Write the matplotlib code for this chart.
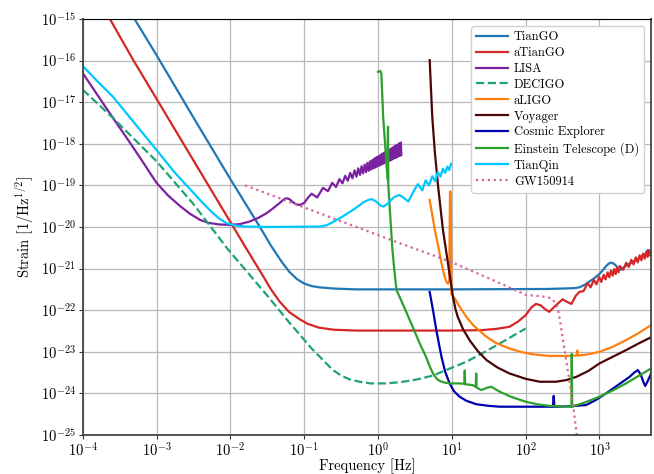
import numpy as np
import matplotlib
matplotlib.use("Agg")
import matplotlib.pyplot as plt

plt.rcParams['font.family'] = 'serif'
plt.rcParams['font.serif'] = ['cmr10']
plt.rcParams['mathtext.fontset'] = 'cm'
plt.rcParams['axes.unicode_minus'] = False
plt.rcParams['axes.formatter.use_mathtext'] = True

# values, as (log10 f [Hz], log10 strain)
tiango_f = [-3.35, -3.0, -2.5, -2.0, -1.6, -1.45, -1.3, -1.2, -1.1, -1.0, -0.9, -0.8, -0.6, -0.3,
            0.0, 1.0, 2.3, 2.5, 2.66, 2.73, 2.8, 2.865, 2.93, 3.0, 3.05, 3.09, 3.12, 3.145, 3.17,
            3.2, 3.24, 3.29, 3.36, 3.43, 3.5, 3.56, 3.62, 3.655, 3.675, 3.7]
tiango_h = [-14.85, -15.87, -17.37, -18.85, -20.0, -20.45, -20.85, -21.08, -21.25, -21.36, -21.42,
            -21.45, -21.48, -21.5, -21.5, -21.5, -21.49, -21.48, -21.47, -21.45, -21.39, -21.31,
            -21.23, -21.13, -21.03, -20.94, -20.89, -20.86, -20.86, -20.89, -20.96, -21.03, -20.93,
            -20.86, -20.79, -20.72, -20.66, -20.55, -20.62, -20.57]

atiango_f = [-3.68, -3.315, -3.0, -2.5, -2.0, -1.78, -1.55, -1.45, -1.33, -1.2, -1.06, -0.95, -0.8,
             -0.6, -0.3, 1.0, 1.4, 1.6, 1.78, 1.9, 2.0, 2.08, 2.14, 2.2, 2.26, 2.32, 2.4, 2.5, 2.56,
             2.62, 2.68, 2.73,
             2.785, 2.839, 2.881, 2.924, 2.959, 2.996, 3.025, 3.057, 3.083, 3.111, 3.134, 3.158,
             3.179, 3.201, 3.22, 3.241, 3.258, 3.276, 3.322, 3.362, 3.398, 3.431, 3.462, 3.491,
             3.519, 3.544, 3.568, 3.591, 3.613, 3.633, 3.653, 3.672, 3.69, 3.699]
atiango_h = [-14.85, -15.99, -16.92, -18.4, -19.88, -20.53, -21.2, -21.5, -21.8, -22.05, -22.22,
             -22.33, -22.42, -22.47, -22.49, -22.49, -22.48, -22.45, -22.4, -22.27, -22.12, -21.93,
             -21.85, -21.88, -21.97, -22.04, -21.9, -21.74, -21.8, -21.85, -21.65, -21.56,
             -21.54, -21.35, -21.45, -21.27, -21.38,
             -21.2, -21.32, -21.15, -21.26, -21.09, -21.21, -21.05, -21.17, -21.01, -21.13, -20.97,
             -21.09, -20.94, -21.03, -20.86, -20.96, -20.79, -20.9, -20.73, -20.85, -20.68, -20.8,
             -20.64, -20.76, -20.6, -20.72, -20.56, -20.69, -20.62]

lisa_f = [-4.0, -3.8, -3.59, -3.4, -3.2, -3.0, -2.84, -2.68, -2.55, -2.41, -2.3, -2.15, -2.0, -1.87,
          -1.74, -1.62, -1.51, -1.42, -1.33, -1.27, -1.24, -1.2, -1.15, -1.1, -1.05, -1.0, -0.95,
          -0.9, -0.824, -0.745, -0.678, -0.62, -0.569, -0.523, -0.481, -0.444, -0.409, -0.377,
          -0.347, -0.319, -0.292, -0.268, -0.244, -0.222, -0.201, -0.18, -0.161, -0.143, -0.125,
          -0.108, -0.092, -0.076, -0.06, -0.046, -0.032, -0.018, -0.004, 0.009, 0.021, 0.033,
          0.045, 0.057, 0.068, 0.079, 0.09, 0.1, 0.111, 0.121, 0.13, 0.14, 0.149, 0.158, 0.167,
          0.176, 0.185, 0.193, 0.201, 0.21, 0.217, 0.225, 0.233, 0.241, 0.248, 0.255, 0.262,
          0.27, 0.276, 0.283, 0.29, 0.297, 0.303, 0.31, 0.316]
lisa_h = [-16.3, -16.83, -17.38, -17.87, -18.4, -18.94, -19.25, -19.5, -19.68, -19.83, -19.9,
          -19.94, -19.95, -19.93, -19.87, -19.78, -19.67, -19.55, -19.42, -19.33, -19.31, -19.33,
          -19.41, -19.46, -19.47, -19.42, -19.3, -19.2, -19.29, -19.06, -19.14, -18.94, -19.04,
          -18.85, -18.95, -18.77, -18.89, -18.7,
          -18.83, -18.64, -18.79, -18.59, -18.75, -18.54, -18.71, -18.5, -18.68, -18.46, -18.65,
          -18.42, -18.62, -18.39, -18.59, -18.35, -18.57, -18.32, -18.54, -18.3, -18.52, -18.27,
          -18.5, -18.24, -18.48, -18.22, -18.46, -18.2, -18.44, -18.18, -18.43, -18.16, -18.41,
          -18.14, -18.4, -18.12, -18.38, -18.1, -18.37, -18.08, -18.35, -18.06, -18.34, -18.05,
          -18.33, -18.03, -18.31, -18.02, -18.3, -18.0, -18.29, -17.99, -18.28, -17.97, -18.27]

decigo_f = [-4.0, -3.59, -3.0, -2.5, -2.05, -1.5, -1.2, -1.015, -0.9, -0.8, -0.7, -0.61, -0.5,
            -0.39, -0.25, -0.1, 0.11, 0.3, 0.45, 0.565, 0.745, 0.95, 1.196, 1.45, 1.65, 2.0]
decigo_h = [-16.7, -17.38, -18.42, -19.45, -20.5, -21.65, -22.3, -22.68, -22.92, -23.1, -23.28,
            -23.44, -23.57, -23.66, -23.72, -23.76, -23.76, -23.73, -23.69, -23.65, -23.57, -23.42,
            -23.24, -23.0, -22.8, -22.44]

aligo_f = [0.7, 0.77, 0.82, 0.86, 0.9, 0.93, 0.95, 0.965, 0.975, 0.985, 0.995, 1.04, 1.1, 1.196,
           1.3, 1.47, 1.6, 1.78, 1.95, 2.1, 2.32, 2.55, 2.69, 2.70, 2.71, 2.85, 3.0, 3.18, 3.36,
           3.53, 3.7]
aligo_h = [-19.35, -20.07, -20.5, -20.87, -21.18, -21.33, -21.36, -21.3, -19.15, -19.15, -21.62,
           -21.72, -21.9, -22.16, -22.38, -22.64, -22.79, -22.92, -23.01, -23.06, -23.1, -23.1,
           -23.09, -22.97, -23.09, -23.06, -23.0, -22.88, -22.72, -22.55, -22.36]

voyager_f = [0.7, 0.735, 0.77, 0.81, 0.85, 0.88, 0.95, 1.015, 1.05, 1.08, 1.15, 1.24, 1.35, 1.47,
             1.62, 1.78, 2.0, 2.19, 2.41, 2.55, 2.69, 2.85, 3.0, 3.18, 3.36, 3.53, 3.7]
voyager_h = [-15.99, -17.35, -18.2, -18.95, -19.6, -20.07, -20.9, -21.67, -21.98, -22.16, -22.45,
             -22.72, -22.98, -23.2, -23.38, -23.52, -23.65, -23.72, -23.72, -23.68, -23.6, -23.46,
             -23.28, -23.12, -22.96, -22.8, -22.65]

ce_f = [0.7, 0.75, 0.79, 0.83, 0.86, 0.91, 0.97, 1.03, 1.105, 1.2, 1.33, 1.5, 1.65, 2.37, 2.38,
        2.39, 2.6, 2.82, 2.95, 3.09, 3.25, 3.41, 3.47, 3.52, 3.56, 3.6, 3.62, 3.65, 3.7]
ce_h = [-21.56, -22.05, -22.48, -22.85, -23.12, -23.48, -23.76, -23.95, -24.08, -24.18, -24.26,
        -24.3, -24.32, -24.32, -24.06, -24.32, -24.31, -24.28, -24.16, -24.0, -23.8, -23.6, -23.5,
        -23.44, -23.55, -23.75, -23.82, -23.72, -23.52]

et_f = [0.0, 0.03, 0.045, 0.07, 0.13, 0.135, 0.14, 0.195, 0.225, 0.25, 0.36, 0.47, 0.565, 0.65,
        0.7, 0.745, 0.79, 0.835, 0.9, 0.97, 1.105, 1.17, 1.175, 1.18, 1.28, 1.325, 1.33, 1.335,
        1.4, 1.47, 1.535, 1.59, 1.65, 1.8, 2.0, 2.15, 2.32, 2.62, 2.625, 2.63, 2.8, 3.0, 3.18,
        3.36, 3.53, 3.7]
et_h = [-16.27, -16.25, -16.3, -17.35, -18.87, -17.59, -19.0, -20.55, -21.1, -21.51, -21.95, -22.4,
        -22.8, -23.12, -23.35, -23.52, -23.64, -23.7, -23.74, -23.76, -23.76, -23.77, -23.45,
        -23.78, -23.8, -23.84, -23.52, -23.86, -23.92, -23.87, -23.84, -23.9, -23.96, -24.08,
        -24.2, -24.26, -24.3, -24.32, -23.05, -24.32, -24.22, -24.08, -23.93, -23.76, -23.58,
        -23.4]

tianqin_f = [-4.0, -3.8, -3.59, -3.3, -3.0, -2.75, -2.5, -2.37, -2.24, -2.15, -2.05, -1.92, -1.78,
             -1.5, -0.8, -0.7, -0.63, -0.56, -0.48, -0.4, -0.29, -0.2, -0.13, -0.09, -0.04, 0.0,
             0.04, 0.07, 0.11, 0.15, 0.22, 0.29, 0.35, 0.41, 0.48, 0.54, 0.6, 0.645, 0.69, 0.736,
             0.775, 0.81, 0.845, 0.88, 0.91, 0.94, 0.965, 0.99]
tianqin_h = [-16.13, -16.5, -16.87, -17.5, -18.15, -18.7, -19.18, -19.43, -19.66, -19.8, -19.91,
             -19.97, -19.99, -20.0, -19.99, -19.96, -19.9, -19.83, -19.75, -19.66, -19.53, -19.41,
             -19.35, -19.33, -19.37, -19.43, -19.49, -19.51, -19.47, -19.4, -19.28, -19.23, -19.3,
             -19.39, -19.15, -18.97, -19.12, -18.88, -19.0, -18.78, -18.9, -18.68, -18.79, -18.6,
             -18.7, -18.55, -18.63, -18.48]

gw_f = [-1.8, 0.295, 0.976, 1.65, 2.0, 2.1, 2.23, 2.32, 2.37, 2.41, 2.44, 2.47, 2.5, 2.57, 2.64,
        2.70]
gw_h = [-19.0, -20.39, -20.83, -21.35, -21.63, -21.65, -21.67, -21.7, -21.75, -21.85, -22.0,
        -22.3, -22.64, -23.44, -24.24, -25.1]

x_ticks = [1e-4, 1e-3, 1e-2, 1e-1, 1e0, 1e1, 1e2, 1e3]
y_ticks = [1e-25, 1e-24, 1e-23, 1e-22, 1e-21, 1e-20, 1e-19, 1e-18, 1e-17, 1e-16, 1e-15]

curves = [
    ("TianGO", tiango_f, tiango_h, '#2177b4', '-'),
    ("aTianGO", atiango_f, atiango_h, '#d62728', '-'),
    ("LISA", lisa_f, lisa_h, '#7b22a0', '-'),
    ("DECIGO", decigo_f, decigo_h, '#1fa276', '--'),
    ("aLIGO", aligo_f, aligo_h, '#ff7f0e', '-'),
    ("Voyager", voyager_f, voyager_h, '#4a0606', '-'),
    ("Cosmic Explorer", ce_f, ce_h, '#0000b0', '-'),
    ("Einstein Telescope (D)", et_f, et_h, '#2ca02c', '-'),
    ("TianQin", tianqin_f, tianqin_h, '#00c8ff', '-'),
    ("GW150914", gw_f, gw_h, '#d6649a', ':'),
]

fig = plt.figure(figsize=(6.54, 4.74), dpi=100)
ax = fig.add_axes([0.1265, 0.0823, 0.869, 0.8777])

for name, lf, lh, col, ls in curves:
    ax.plot(10**np.array(lf), 10**np.array(lh), color=col, ls=ls, lw=1.6, label=name)

ax.set_xscale('log')
ax.set_yscale('log')
ax.set_xlim(1e-4, 5e3)
ax.set_ylim(1e-25, 1e-15)
ax.xaxis.set_major_locator(matplotlib.ticker.FixedLocator(x_ticks))
ax.yaxis.set_major_locator(matplotlib.ticker.FixedLocator(y_ticks))
ax.xaxis.set_minor_locator(matplotlib.ticker.NullLocator())
ax.yaxis.set_minor_locator(matplotlib.ticker.NullLocator())
ax.xaxis.set_major_formatter(matplotlib.ticker.LogFormatterSciNotation())
ax.yaxis.set_major_formatter(matplotlib.ticker.LogFormatterSciNotation())
ax.grid(True, color='#b8b8b8', lw=0.9)
ax.tick_params(labelsize=10.5, length=3, pad=2, color='#333333')
for side in ['left', 'bottom', 'right']:
    ax.spines[side].set_color('#444444')
    ax.spines[side].set_linewidth(1.3)
ax.spines['top'].set_color('black')

ax.set_xlabel("Frequency [Hz]", fontsize=10.5, labelpad=-1)
ax.set_ylabel(r"Strain $\left[1/\mathrm{Hz}^{1/2}\right]$", fontsize=10.5, labelpad=3)

leg = ax.legend(loc='upper right', bbox_to_anchor=(0.9877, 0.983), borderaxespad=0,
                fontsize=9, labelspacing=0.3, handlelength=2.5, handletextpad=0.5,
                framealpha=1.0, edgecolor='#d0d0d0', fancybox=True)

fig.savefig("out.png", dpi=100)
